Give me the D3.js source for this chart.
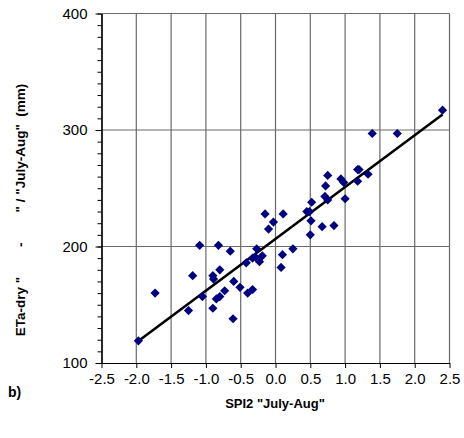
<!DOCTYPE html>
<html>
<head>
<meta charset="utf-8">
<script src="https://cdn.jsdelivr.net/npm/d3@7"></script>
<style>
  body { margin: 0; background: #fff; }
  svg { font-family: "Liberation Sans", Arial, sans-serif; }
</style>
</head>
<body>
<div id="chart"></div>
<script>
// SPI2 (July-Aug) vs ETa-dry (July-Aug)
const spiValues = [
  -1.97, -1.73, -1.25, -1.19, -1.09, -1.05, -0.90, -0.90, -0.89, -0.85,
  -0.80, -0.82, -0.80, -0.73, -0.65, -0.61, -0.60, -0.51, -0.42, -0.40,
  -0.33, -0.33, -0.29, -0.27, -0.23, -0.19, -0.15, -0.10, -0.03, 0.08,
  0.10, 0.11, 0.25, 0.45, 0.49, 0.51, 0.50, 0.52, 0.67, 0.71,
  0.72, 0.75, 0.75, 0.84, 0.94, 0.98, 1.00, 1.18, 1.20, 1.18,
  1.33, 1.39, 1.75, 2.40
];
const etaValues = [
  119, 160, 145, 175, 201, 157, 147, 175, 172, 155,
  157, 201, 180, 162, 196, 138, 170, 165, 186, 160,
  163, 190, 191, 198, 187, 192, 228, 215, 221, 182,
  193, 228, 198, 230, 230, 222, 210, 238, 217, 243,
  252, 240, 261, 218, 258, 255, 241, 266, 266, 256,
  262, 297, 297, 317
];
const xTicks = [-2.5, -2.0, -1.5, -1.0, -0.5, 0.0, 0.5, 1.0, 1.5, 2.0, 2.5];
const yTicks = [100, 200, 300, 400];

const data = spiValues.map((s, i) => ({ spi: s, eta: etaValues[i] }));

const width = 464, height = 438;
const margin = { top: 13.5, right: 14.5, bottom: 75, left: 101.5 };

// plain hyphen for negatives, like the original
const fmt = d3.formatLocale({ decimal: ".", thousands: ",", grouping: [3], currency: ["", ""], minus: "-" }).format(".1f");

const svg = d3.select("#chart").append("svg")
    .attr("width", width)
    .attr("height", height);

const x = d3.scaleLinear()
    .domain([-2.5, 2.5])
    .range([margin.left, width - margin.right]);

const y = d3.scaleLinear()
    .domain([100, 400])
    .range([height - margin.bottom, margin.top]);

// gridlines
svg.append("g")
    .selectAll("line")
    .data(xTicks.slice(1))
    .enter().append("line")
    .attr("x1", d => x(d)).attr("x2", d => x(d))
    .attr("y1", y(100)).attr("y2", y(400))
    .attr("stroke", "#6a6a6a")
    .attr("stroke-width", 1.2);

svg.append("g")
    .selectAll("line")
    .data(yTicks.slice(1))
    .enter().append("line")
    .attr("x1", x(-2.5)).attr("x2", x(2.5))
    .attr("y1", d => y(d)).attr("y2", d => y(d))
    .attr("stroke", "#6a6a6a")
    .attr("stroke-width", 1.2);

// x axis
svg.append("g")
    .attr("transform", "translate(0," + y(100) + ")")
    .call(d3.axisBottom(x).tickValues(xTicks).tickFormat(fmt).tickSizeInner(5).tickSizeOuter(0).tickPadding(5));

// y axis, minor ticks every 10
svg.append("g")
    .attr("transform", "translate(" + x(-2.5) + ",0)")
    .call(d3.axisLeft(y).tickValues(d3.range(100, 401, 10)).tickFormat("").tickSize(4).tickSizeOuter(0));

svg.append("g")
    .attr("transform", "translate(" + x(-2.5) + ",0)")
    .call(d3.axisLeft(y).tickValues(yTicks).tickSizeInner(6).tickSizeOuter(0).tickPadding(8));

svg.selectAll(".domain").attr("stroke", "#000").attr("stroke-width", 1.2);
svg.selectAll(".tick line").attr("stroke", "#000");
svg.selectAll(".tick text")
    .attr("fill", "#000")
    .style("font-size", "15px");

// trend line (least squares)
const mx = d3.mean(data, d => d.spi), my = d3.mean(data, d => d.eta);
const slope = d3.sum(data, d => (d.spi - mx) * (d.eta - my)) / d3.sum(data, d => (d.spi - mx) ** 2);
const icpt = my - slope * mx;
const xr = d3.extent(data, d => d.spi);

svg.append("line")
    .attr("x1", x(xr[0])).attr("y1", y(icpt + slope * xr[0]))
    .attr("x2", x(xr[1])).attr("y2", y(icpt + slope * xr[1]))
    .attr("stroke", "#000")
    .attr("stroke-width", 2.6);

// points
svg.selectAll(".dot")
    .data(data)
    .enter().append("path")
    .attr("class", "dot")
    .attr("d", "M0,-4.6L4.6,0L0,4.6L-4.6,0Z")
    .attr("transform", d => "translate(" + x(d.spi) + "," + y(d.eta) + ")")
    .attr("fill", "#000080");

// titles
svg.append("text")
    .attr("x", 275)
    .attr("y", 408)
    .attr("text-anchor", "middle")
    .style("font-size", "13px")
    .style("font-weight", "bold")
    .text('SPI2 "July-Aug"');

svg.append("text")
    .attr("transform", "translate(25,210) rotate(-90)")
    .attr("text-anchor", "middle")
    .style("font-size", "13.5px")
    .style("font-weight", "bold")
    .style("white-space", "pre")
    .attr("xml:space", "preserve")
    .text('ETa-dry "        -        " / "July-Aug"  (mm)');

svg.append("text")
    .attr("x", 8)
    .attr("y", 397)
    .style("font-size", "14px")
    .style("font-weight", "bold")
    .text("b)");
</script>
</body>
</html>
